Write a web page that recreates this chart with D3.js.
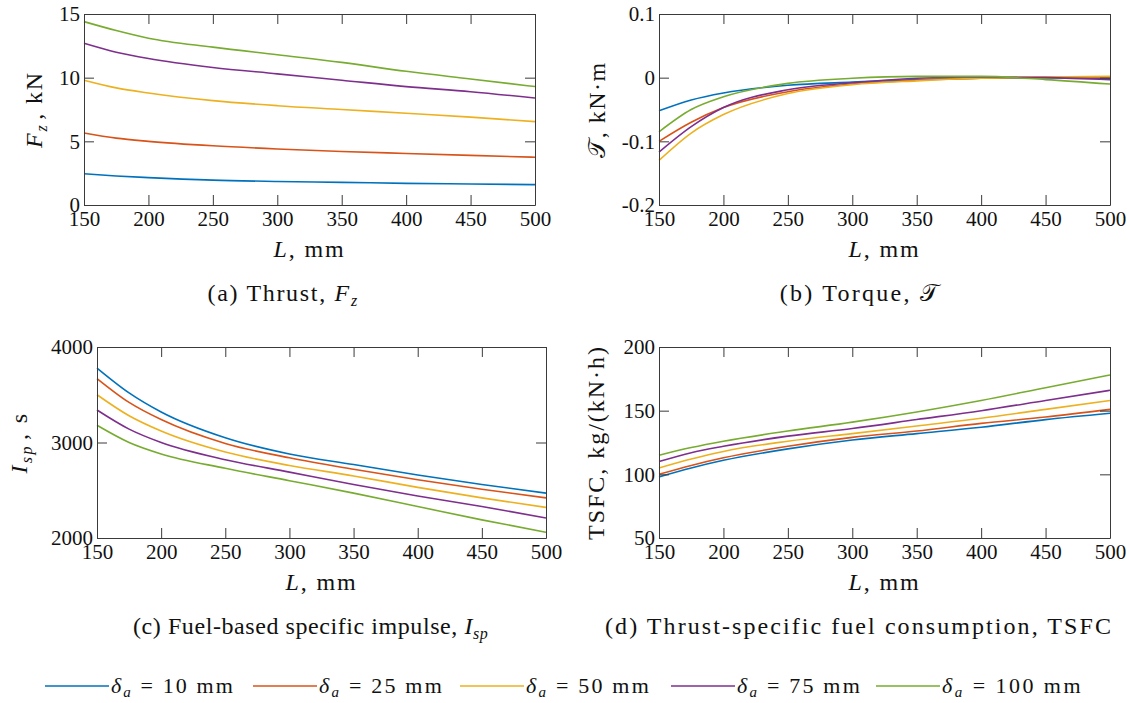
<!DOCTYPE html>
<html>
<head>
<meta charset="utf-8">
<script src="https://cdn.jsdelivr.net/npm/d3@7"></script>
<style>
  body { margin: 0; background: #fff; }
  .axis path, .axis line { stroke: #3a3a3a; }
</style>
</head>
<body>
<svg id="fig" width="1130" height="703"></svg>
<script>
const FONT = '"Liberation Serif", serif'

const lengths = [150, 175, 200, 250, 300, 350, 400, 450, 500]
const deltas = [10, 25, 50, 75, 100]
const colors = ['#0072BD', '#D95319', '#EDB120', '#7E2F8E', '#77AC30']

// thrust Fz, kN (one row per delta)
const thrust = [
    [2.45, 2.28, 2.15, 1.95, 1.85, 1.78, 1.70, 1.65, 1.60],
    [5.65, 5.25, 5.00, 4.65, 4.40, 4.20, 4.05, 3.90, 3.75],
    [9.80, 9.20, 8.80, 8.20, 7.80, 7.50, 7.20, 6.90, 6.55],
    [12.7, 12.0, 11.5, 10.8, 10.3, 9.80, 9.30, 8.90, 8.40],
    [14.4, 13.7, 13.1, 12.4, 11.8, 11.2, 10.5, 9.90, 9.30]
]
// torque, kN.m
const torque = [
    [-0.052, -0.035, -0.024, -0.012, -0.007, -0.003, -0.001, 0.000, -0.001],
    [-0.100, -0.070, -0.047, -0.022, -0.010, -0.004, -0.001, 0.001, 0.001],
    [-0.130, -0.087, -0.058, -0.025, -0.011, -0.005, -0.001, 0.001, 0.002],
    [-0.117, -0.077, -0.047, -0.019, -0.008, -0.001, 0.001, 0.000, -0.003],
    [-0.085, -0.050, -0.030, -0.009, -0.001, 0.002, 0.002, -0.003, -0.010]
]
// fuel-based specific impulse, s
const isp = [
    [3780, 3520, 3320, 3050, 2880, 2770, 2660, 2560, 2470],
    [3670, 3420, 3240, 2990, 2840, 2720, 2610, 2510, 2420],
    [3500, 3280, 3120, 2900, 2760, 2650, 2530, 2420, 2320],
    [3340, 3140, 3000, 2820, 2690, 2560, 2440, 2330, 2210],
    [3180, 3000, 2880, 2730, 2600, 2470, 2330, 2190, 2060]
]
// TSFC, kg/(kN.h)
const tsfc = [
    [98, 105, 111, 120, 127, 132, 137, 143, 148],
    [100, 107, 113, 122, 129, 134, 140, 145, 151],
    [105, 112, 118, 126, 132, 138, 144, 151, 158],
    [110, 117, 122, 130, 136, 143, 150, 158, 166],
    [115, 121, 126, 134, 141, 149, 158, 168, 178]
]

const xTicks = [150, 200, 250, 300, 350, 400, 450, 500]

const svg = d3.select('#fig')

// stretch a text to the width it has in the typeset original
function fit(t, width) {
    const node = t.node()
    const n = node.textContent.length
    const w = node.getComputedTextLength()
    t.style('letter-spacing', ((width - w) / n) + 'px')
}

function newText(parent, size) {
    return parent.append('text')
        .style('font-family', FONT)
        .style('font-size', size + 'px')
        .attr('fill', '#111')
}

function sub(t, main, s, size) {
    t.append('tspan').style('font-style', 'italic').text(main)
    t.append('tspan').style('font-style', 'italic').style('font-size', size + 'px')
        .attr('dy', 5).text(s)
    t.append('tspan').attr('dy', -5).text('\u200A')
}

function drawPanel(opt) {
    const g = svg.append('g')
    const x = d3.scaleLinear().domain([150, 500]).range([opt.left, opt.right])
    const y = d3.scaleLinear().domain(opt.domain).range([opt.bottom, opt.top])

    const line = d3.line()
        .x((d, i) => x(lengths[i]))
        .y(d => y(d))
        .curve(d3.curveMonotoneX)

    opt.data.forEach((row, k) => {
        g.append('path')
            .datum(row)
            .attr('fill', 'none')
            .attr('stroke', colors[k])
            .attr('stroke-width', 1.6)
            .attr('d', line)
    })

    // box with inward ticks on all sides
    g.append('g').attr('class', 'axis')
        .attr('transform', `translate(0,${opt.bottom})`)
        .call(d3.axisBottom(x).tickValues(xTicks).tickSize(-10).tickSizeOuter(0).tickPadding(6))
    g.append('g').attr('class', 'axis')
        .attr('transform', `translate(0,${opt.top})`)
        .call(d3.axisTop(x).tickValues(xTicks).tickSize(-10).tickSizeOuter(0).tickFormat(''))
    g.append('g').attr('class', 'axis')
        .attr('transform', `translate(${opt.left},0)`)
        .call(d3.axisLeft(y).tickValues(opt.ticks).tickSize(-10).tickSizeOuter(0).tickPadding(4)
            .tickFormat(opt.fmt))
    g.append('g').attr('class', 'axis')
        .attr('transform', `translate(${opt.right},0)`)
        .call(d3.axisRight(y).tickValues(opt.ticks).tickSize(-10).tickSizeOuter(0).tickFormat(''))
    g.selectAll('.axis text')
        .attr('fill', '#111')
        .style('font-family', FONT)
        .style('font-size', '21px')

    // x label
    const xl = newText(g, 24)
        .attr('x', (opt.left + opt.right) / 2)
        .attr('y', opt.bottom + 52)
        .attr('text-anchor', 'middle')
    xl.append('tspan').style('font-style', 'italic').text('L')
    xl.append('tspan').text(', mm')
    fit(xl, 72)

    // y label
    const yl = newText(g, 24)
        .attr('transform', `translate(${opt.ylx},${(opt.top + opt.bottom) / 2}) rotate(-90)`)
        .attr('text-anchor', 'middle')
    opt.ylabel(yl)
    fit(yl, opt.ylw)

    // caption
    const cap = newText(g, 24)
        .attr('x', opt.capx)
        .attr('y', opt.bottom + 96)
        .attr('text-anchor', 'middle')
    opt.caption(cap)
    fit(cap, opt.capw)
}

const fmtDash = d => (d < 0 ? '-' : '') + Math.abs(d)

drawPanel({
    left: 84, right: 535, top: 14, bottom: 205,
    domain: [0, 15], ticks: [0, 5, 10, 15], fmt: d3.format('d'),
    data: thrust, ylx: 42, ylw: 77, capx: 285, capw: 155,
    ylabel: t => { sub(t, 'F', 'z', 16); t.append('tspan').text(', kN') },
    caption: t => { t.append('tspan').text('(a) Thrust, '); sub(t, 'F', 'z', 16) }
})

drawPanel({
    left: 659, right: 1110, top: 14, bottom: 205,
    domain: [-0.2, 0.1], ticks: [-0.2, -0.1, 0, 0.1], fmt: fmtDash,
    data: torque, ylx: 605, ylw: 98, capx: 860, capw: 163,
    ylabel: t => { t.append('tspan').text('𝒯'); t.append('tspan').text(', kN·m') },
    caption: t => { t.append('tspan').text('(b) Torque, '); t.append('tspan').text('𝒯') }
})

drawPanel({
    left: 97, right: 546, top: 347, bottom: 538,
    domain: [2000, 4000], ticks: [2000, 3000, 4000], fmt: d3.format('d'),
    data: isp, ylx: 27, ylw: 62, capx: 312, capw: 358,
    ylabel: t => { sub(t, 'I', 'sp', 16); t.append('tspan').text(', s') },
    caption: t => { t.append('tspan').text('(c) Fuel-based specific impulse, '); sub(t, 'I', 'sp', 16) }
})

drawPanel({
    left: 659, right: 1110, top: 347, bottom: 538,
    domain: [50, 200], ticks: [50, 100, 150, 200], fmt: d3.format('d'),
    data: tsfc, ylx: 604, ylw: 195, capx: 859, capw: 508,
    ylabel: t => { t.append('tspan').text('TSFC, kg/(kN·h)') },
    caption: t => { t.append('tspan').text('(d) Thrust-specific fuel consumption, TSFC') }
})

// legend
const legX = [45, 253, 460, 671, 876]
const legW = [124, 125, 125, 125, 141]
const legend = svg.append('g')
deltas.forEach((d, i) => {
    legend.append('line')
        .attr('x1', legX[i]).attr('x2', legX[i] + 64)
        .attr('y1', 686).attr('y2', 686)
        .attr('stroke', colors[i]).attr('stroke-width', 1.6)
    const t = newText(legend, 22)
        .attr('x', legX[i] + 66).attr('y', 693)
    t.append('tspan').style('font-style', 'italic').text('δ')
    t.append('tspan').style('font-style', 'italic').style('font-size', '15px').attr('dy', 4).text('a')
    t.append('tspan').attr('dy', -4).text(` = ${d} mm`)
    fit(t, legW[i])
})
</script>
</body>
</html>
